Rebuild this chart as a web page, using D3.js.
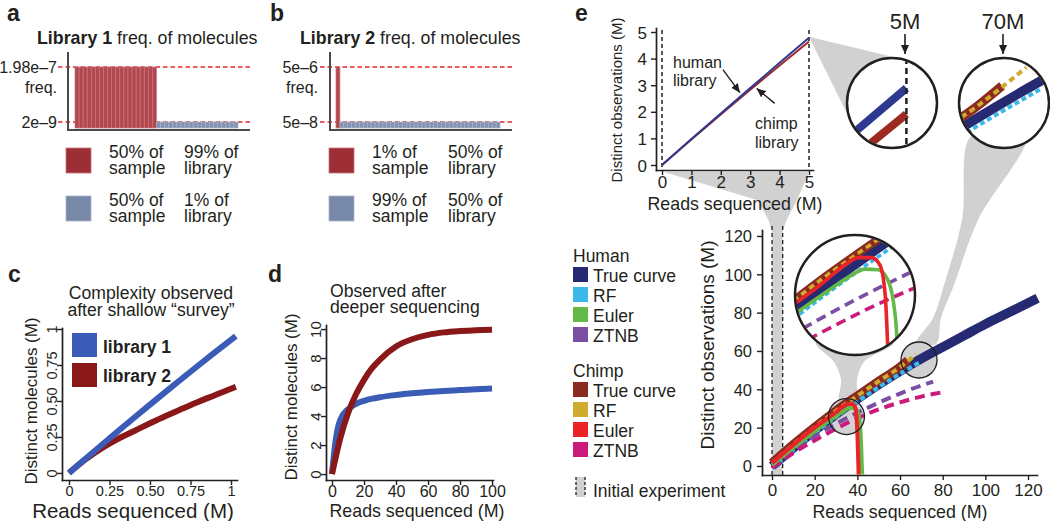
<!DOCTYPE html>
<html>
<head>
<meta charset="utf-8">
<script src="https://cdn.jsdelivr.net/npm/d3@7/dist/d3.min.js"></script>
<style>
  html,body{margin:0;padding:0;background:#fff;}
  svg{display:block;}
</style>
</head>
<body>
<svg id="fig" width="1050" height="521"></svg>
<script>
// ======================= DATA =======================
// Panel a – Library 1 frequency of molecules
const libAGroupFreq = [1.98e-7, 2e-9];
const libAGroupCount = [20, 20];
const libATickLabels = ["1.98e–7", "2e–9"];
const libALegendRows = [["50% of", "sample", "99% of", "library"], ["50% of", "sample", "1% of", "library"]];
// Panel b – Library 2 frequency of molecules
const libBGroupFreq = [5e-6, 5e-8];
const libBGroupCount = [1, 41];
const libBTickLabels = ["5e–6", "5e–8"];
const libBLegendRows = [["1% of", "sample", "50% of", "library"], ["99% of", "sample", "50% of", "library"]];
// Panel c – shallow survey
const surveyReads = [0, 0.1, 0.2, 0.3, 0.4, 0.5, 0.6, 0.7, 0.8, 0.9, 1.0, 1.03];
const surveyLib1 = [0, 0.097, 0.193, 0.288, 0.382, 0.475, 0.567, 0.658, 0.748, 0.837, 0.925, 0.951];
const surveyLib2 = [0, 0.092, 0.17, 0.235, 0.29, 0.345, 0.398, 0.447, 0.495, 0.54, 0.585, 0.598];
const surveyTicks = [0, 0.25, 0.5, 0.75, 1];
const surveyTickLabels = ["0", "0.25", "0.50", "0.75", "1"];
const surveyLegend = ["library 1", "library 2"];
// Panel d – deeper sequencing
const deepReads = [0, 2, 5, 10, 15, 20, 25, 30, 40, 50, 60, 70, 80, 90, 100];
const deepLib1 = [0, 2.1, 3.7, 4.47, 4.84, 5.05, 5.2, 5.3, 5.45, 5.57, 5.66, 5.73, 5.79, 5.85, 5.9];
const deepLib2 = [0, 1.0, 2.4, 4.2, 5.5, 6.5, 7.3, 7.9, 8.8, 9.3, 9.6, 9.77, 9.86, 9.92, 9.95];
const deepXTicks = [0, 20, 40, 60, 80, 100];
const deepYTicks = [0, 2, 4, 6, 8, 10];
// Panel e (top) – initial experiment
const initReads = [0, 1, 2, 3, 4, 5];
const initHuman = [0, 0.98, 1.94, 2.89, 3.84, 4.78];
const initChimp = [0, 0.96, 1.9, 2.83, 3.74, 4.64];
const initTicks = [0, 1, 2, 3, 4, 5];
// Panel e (bottom) – extrapolations
const humanTrueX = [0, 10, 20, 30, 40, 50, 60, 70, 80, 90, 100, 110, 120, 124.5];
const humanTrueY = [0, 9.5, 18.5, 27, 35, 42.5, 49.5, 56, 62, 68, 74, 79.5, 85, 87.5];
const humanRFX = [0, 10, 20, 30, 40, 50, 60, 70];
const humanRFY = [-1.2, 8.2, 17.1, 25.6, 33.6, 41.1, 48.1, 54.6];
const humanEulerX = [0, 10, 20, 30, 34, 36.5, 38.5, 40, 41.2, 41.8, 42.1, 42.3];
const humanEulerY = [0.5, 9.5, 18, 26, 29, 30.3, 30.2, 28.5, 22, 10, 0, -4.5];
const humanZTNBX = [0, 10, 20, 30, 40, 50, 60, 70, 75.5];
const humanZTNBY = [-0.5, 8, 15.5, 22, 27.8, 33, 37.8, 42, 44];
const chimpTrueX = [0, 10, 20, 30, 40, 50, 60, 63.7];
const chimpTrueY = [1.5, 11.2, 20.2, 28.8, 36.6, 44.2, 51.6, 55];
const chimpRFX = [0, 10, 20, 30, 40, 50, 60, 67.5];
const chimpRFY = [1.5, 11.2, 20.2, 28.8, 36.6, 44.2, 51.6, 58.2];
const chimpEulerX = [0, 10, 20, 30, 33, 35.5, 37.5, 38.8, 39.6, 40.1, 40.4, 40.6];
const chimpEulerY = [1.5, 11, 20, 28, 30.8, 32.3, 32.3, 31, 26, 14, 3, -4.5];
const chimpZTNBX = [0, 10, 20, 30, 40, 50, 60, 70, 80];
const chimpZTNBY = [-1, 6.8, 13.3, 19.5, 25, 29.5, 33.2, 36.2, 38.5];
const fullTicks = [0, 20, 40, 60, 80, 100, 120];
const legendGroups = ["Human", "Chimp"];
const legendSeries = ["True curve", "RF", "Euler", "ZTNB"];
const initialExperiment = [0, 5];
const zoomSpotX = [34.9, 68.9];
const zoomSpotY = [25.8, 55.3];
const insetLabels = ["5M", "70M"];

// ======================= STYLE / HELPERS =======================
const FONT = '"Liberation Sans", Arial, Helvetica, sans-serif';
const INK = "#231f20";
const GRAY = "#d1d1d1";
const svg = d3.select("#fig");
const defs = svg.append("defs");
defs.append("marker").attr("id", "arr").attr("viewBox", "0 -5 10 10")
  .attr("refX", 10).attr("refY", 0).attr("markerWidth", 9).attr("markerHeight", 9)
  .attr("markerUnits", "userSpaceOnUse").attr("orient", "auto")
  .append("path").attr("d", "M0,-4.5L10,0L0,4.5Z").attr("fill", INK);
const back = svg.append("g");
const front = svg.append("g");

function label(g, x, y, s, size, o = {}) {
  const t = g.append("text").attr("x", x).attr("y", y)
    .attr("font-family", FONT).attr("font-size", size).attr("fill", o.fill || INK);
  if (o.anchor) t.attr("text-anchor", o.anchor);
  if (o.bold) t.attr("font-weight", "bold");
  if (o.rot) t.attr("transform", `rotate(-90 ${x} ${y})`);
  t.text(s);
  return t;
}
function axes(g, x, y, o) {
  const ax = g.append("g").attr("transform", `translate(0,${y.range()[0]})`)
    .call(d3.axisBottom(x).tickValues(o.xt).tickFormat((d, i) => o.xl[i]).tickSize(5).tickSizeOuter(0));
  ax.selectAll(".tick text").attr("y", o.xly).attr("dy", 0).attr("font-size", o.xfs);
  const ay = g.append("g").attr("transform", `translate(${x.range()[0]},0)`)
    .call(d3.axisLeft(y).tickValues(o.yt).tickFormat((d, i) => o.yl[i]).tickSize(5).tickSizeOuter(0));
  if (o.yrot) ay.selectAll(".tick text").attr("x", 0).attr("y", -o.ylx).attr("dy", 0)
    .attr("text-anchor", "middle").attr("transform", "rotate(-90)");
  else ay.selectAll(".tick text").attr("x", -o.ylx).attr("dy", "0.36em");
  ay.selectAll(".tick text").attr("font-size", o.yfs);
  [ax, ay].forEach(a => {
    a.attr("font-family", FONT);
    a.select(".domain").attr("stroke", INK).attr("stroke-width", 1.7).attr("stroke-linecap", "square");
    a.selectAll(".tick line").attr("stroke", INK).attr("stroke-width", 1.4);
    a.selectAll(".tick text").attr("fill", INK);
  });
}
const zip = (xs, ys) => xs.map((v, i) => [v, ys[i]]);

// panel letters
[["a", 7, 21], ["b", 270, 21], ["c", 8, 282], ["d", 268, 282], ["e", 575, 21]]
  .forEach(p => label(front, p[1], p[2], p[0], 23, { bold: true }));

// ======================= PANELS a & b =======================
function freqPanel(o) {
  const g = front.append("g");
  const bars = [];
  o.freq.forEach((f, gi) => { for (let k = 0; k < o.count[gi]; k++) bars.push({ f, gi }); });
  const x = d3.scaleBand().domain(d3.range(bars.length)).range([o.bx0, o.bx1]);
  const y = d3.scaleLog().domain([o.freq[1], o.freq[0]]).range([122, 67]);
  const base = y.invert(128);
  o.freq.forEach(f => g.append("line").attr("x1", o.dx0).attr("x2", o.dx1).attr("y1", y(f)).attr("y2", y(f))
    .attr("stroke", "#e8262d").attr("stroke-width", 1.6).attr("stroke-dasharray", "4.5,3"));
  g.selectAll("rect.bar").data(bars).join("rect").attr("class", "bar")
    .attr("x", (d, i) => x(i)).attr("width", x.bandwidth())
    .attr("y", d => y(d.f)).attr("height", d => y(base) - y(d.f))
    .attr("fill", d => o.fills[d.gi]).attr("stroke", d => o.strokes[d.gi]).attr("stroke-width", 0.7);
  g.append("path").attr("d", `M${o.ax},52V130H${o.dx1}`).attr("fill", "none")
    .attr("stroke", "#4a4a4a").attr("stroke-width", 2);
  o.freq.forEach((f, i) => label(g, o.tx, y(f) + 5.5, o.tickLabels[i], 16, { anchor: "end" }));
  label(g, o.tx, 93, "freq.", 16, { anchor: "end" });
  const t = label(g, o.titleX, 44, "", 17.8);
  t.append("tspan").attr("font-weight", "bold").text(o.titleBold);
  t.append("tspan").text(" freq. of molecules");
  o.legend.forEach((row, i) => {
    const y0 = 148 + i * 48;
    g.append("rect").attr("x", o.lx).attr("y", y0).attr("width", 25).attr("height", 25)
      .attr("fill", o.legendFill[i]).attr("stroke", o.strokes[i]).attr("stroke-width", 0.8);
    label(g, o.c1, y0 + 9.5, row[0], 17.5); label(g, o.c1, y0 + 25.5, row[1], 17.5);
    label(g, o.c2, y0 + 9.5, row[2], 17.5); label(g, o.c2, y0 + 25.5, row[3], 17.5);
  });
}
const freqFills = ["#b3474f", "#8292b2"], freqStrokes = ["#c9747a", "#a7b3ca"], freqLegend = ["#9d2e36", "#7888a8"];
freqPanel({ freq: libAGroupFreq, count: libAGroupCount, bx0: 75, bx1: 238, dx0: 58, dx1: 250, ax: 68, tx: 57,
  tickLabels: libATickLabels, titleX: 37, titleBold: "Library 1", legend: libALegendRows, lx: 66, c1: 109, c2: 184,
  fills: freqFills, strokes: freqStrokes, legendFill: freqLegend });
freqPanel({ freq: libBGroupFreq, count: libBGroupCount, bx0: 336, bx1: 500, dx0: 320, dx1: 512, ax: 330, tx: 318,
  tickLabels: libBTickLabels, titleX: 300, titleBold: "Library 2", legend: libBLegendRows, lx: 329, c1: 372, c2: 448,
  fills: freqFills, strokes: freqStrokes, legendFill: freqLegend });

// ======================= PANEL c =======================
const BLUE = "#3b5cb6", DRED = "#8b1818";
{
  const g = front.append("g");
  const x = d3.scaleLinear().domain([-0.043, 1.037]).range([62, 237]);
  const y = d3.scaleLinear().domain([-0.049, 1.007]).range([480, 328]);
  axes(g, x, y, { xt: surveyTicks, xl: surveyTickLabels, xly: 16, xfs: 14.5, yt: surveyTicks, yl: surveyTickLabels, ylx: 5, yfs: 14.5, yrot: true });
  const line = d3.line().x((d, i) => x(surveyReads[i])).y(d => y(d)).curve(d3.curveMonotoneX);
  g.append("path").datum(surveyLib2).attr("d", line).attr("fill", "none").attr("stroke", DRED).attr("stroke-width", 6);
  g.append("path").datum(surveyLib1).attr("d", line).attr("fill", "none").attr("stroke", BLUE).attr("stroke-width", 6);
  label(g, 151, 299, "Complexity observed", 17.6, { anchor: "middle" });
  label(g, 151, 316, "after shallow \u201csurvey\u201d", 17.6, { anchor: "middle" });
  label(g, 133, 518, "Reads sequenced (M)", 20.5, { anchor: "middle" });
  label(g, 37, 401, "Distinct molecules (M)", 17, { anchor: "middle", rot: true });
  [BLUE, DRED].forEach((c, i) => {
    g.append("rect").attr("x", 72).attr("y", 333 + i * 30).attr("width", 25).attr("height", 24).attr("fill", c);
    label(g, 103, 353 + i * 29, surveyLegend[i], 17.5, { bold: true });
  });
}

// ======================= PANEL d =======================
{
  const g = front.append("g");
  const x = d3.scaleLinear().domain([-3.75, 100.6]).range([326, 493]);
  const y = d3.scaleLinear().domain([-0.41, 10.28]).range([480, 325]);
  axes(g, x, y, { xt: deepXTicks, xl: deepXTicks.map(String), xly: 16.5, xfs: 16, yt: deepYTicks, yl: deepYTicks.map(String), ylx: 5, yfs: 15, yrot: true });
  const line = d3.line().x((d, i) => x(deepReads[i])).y(d => y(d)).curve(d3.curveMonotoneX);
  g.append("path").datum(deepLib1).attr("d", line).attr("fill", "none").attr("stroke", BLUE).attr("stroke-width", 6);
  g.append("path").datum(deepLib2).attr("d", line).attr("fill", "none").attr("stroke", DRED).attr("stroke-width", 6);
  label(g, 330, 297, "Observed after", 17.6);
  label(g, 330, 313, "deeper sequencing", 17.6);
  label(g, 417, 516.5, "Reads sequenced (M)", 17.8, { anchor: "middle" });
  label(g, 297, 397, "Distinct molecules (M)", 17, { anchor: "middle", rot: true });
}

// ======================= PANEL e – scales =======================
const xT = d3.scaleLinear().domain([-0.204, 5.136]).range([656, 813]);
const yT = d3.scaleLinear().domain([-0.188, 5.15]).range([170, 28]);
const xB = d3.scaleLinear().domain([-4.69, 124.2]).range([762, 1037]);
const yB = d3.scaleLinear().domain([-4.7, 123.1]).range([475, 230]);

const HUMAN_C = ["#262a72", "#3cb8ea", "#62b946", "#7a4ea1"];
const CHIMP_C = ["#8b2a1e", "#cfab2e", "#ec2229", "#cc1a7c"];
const bottomSeries = [
  { xs: humanTrueX, ys: humanTrueY, c: HUMAN_C[0], w: 9.5 },
  { xs: chimpTrueX, ys: chimpTrueY, c: CHIMP_C[0], w: 9 },
  { xs: humanRFX, ys: humanRFY, c: HUMAN_C[1], w: 4, dash: "5,3" },
  { xs: chimpRFX, ys: chimpRFY, c: CHIMP_C[1], w: 4, dash: "6,4" },
  { xs: humanZTNBX, ys: humanZTNBY, c: HUMAN_C[3], w: 4, dash: "10,6" },
  { xs: chimpZTNBX, ys: chimpZTNBY, c: CHIMP_C[3], w: 4, dash: "10,6" },
  { xs: humanEulerX, ys: humanEulerY, c: HUMAN_C[2], w: 4 },
  { xs: chimpEulerX, ys: chimpEulerY, c: CHIMP_C[2], w: 4 }
];
function drawSeries(g, px, py, widthScale) {
  const line = d3.line().x(d => px(d[0])).y(d => py(d[1])).curve(d3.curveMonotoneX);
  bottomSeries.forEach(s => {
    const p = g.append("path").datum(zip(s.xs, s.ys)).attr("d", line).attr("fill", "none")
      .attr("stroke", s.c).attr("stroke-width", s.w * (widthScale || 1));
    if (s.dash) p.attr("stroke-dasharray", s.dash);
  });
}

// ---------- gray connectors (back layer) ----------
const fA = [[xT(0) + 2, 172], [xT(5), 172], [797, 200], [787, 219], [xB(5), 231], [xB(5), yB.range()[0]],
  [xB(0), yB.range()[0]], [xB(0), 231], [768, 219], [757, 200]];
back.append("path").attr("d", d3.line()(fA) + "Z").attr("fill", GRAY);

const in5 = { cx: 892, cy: 103, r: 45, k: 7 };
{
  const P = [xT(initReads[5]), yT(initHuman[5]) - 1];
  const dx = in5.cx - P[0], dy = in5.cy - P[1];
  const d = Math.hypot(dx, dy), phi = Math.atan2(dy, dx), a = Math.asin(in5.r / d), L = Math.sqrt(d * d - in5.r * in5.r);
  const T1 = [P[0] + L * Math.cos(phi - a), P[1] + L * Math.sin(phi - a)];
  const T2 = [P[0] + L * Math.cos(phi + a), P[1] + L * Math.sin(phi + a)];
  back.append("path").attr("d", d3.line()([P, T1, [in5.cx, in5.cy], T2]) + "Z").attr("fill", GRAY);
}
const in70 = { cx: 1004, cy: 103, r: 45, k: 3 };
const spot2 = [xB(zoomSpotX[1]), yB(zoomSpotY[1])];
back.append("path").attr("d", d3.line().curve(d3.curveCatmullRomClosed)([
  [972, 135], [962, 220], [944, 285], [933, 318], [spot2[0] - 3, spot2[1] - 16],
  [spot2[0] + 17, spot2[1] - 16], [941, 318], [954, 285], [978, 220], [1026, 135]])).attr("fill", GRAY);
const inBig = { cx: 855, cy: 295, r: 60, k: 3 };
const spot1 = [xB(zoomSpotX[0]), yB(zoomSpotY[0])];
back.append("path").attr("d", d3.line().curve(d3.curveCatmullRomClosed)([
  [816, 343], [834, 362], [841, 380], [spot1[0] - 7, spot1[1] - 14],
  [spot1[0] + 10, spot1[1] - 14], [857, 380], [864, 362], [894, 343]])).attr("fill", GRAY);
[spot1, spot2].forEach(s => back.append("circle").attr("cx", s[0]).attr("cy", s[1]).attr("r", 18).attr("fill", GRAY));

// ======================= PANEL e – top chart =======================
{
  const g = front.append("g");
  axes(g, xT, yT, { xt: initTicks, xl: initTicks.map(String), xly: 18, xfs: 17, yt: initTicks, yl: initTicks.map(String), ylx: 9, yfs: 17 });
  initialExperiment.forEach(v => g.append("line").attr("x1", xT(v)).attr("x2", xT(v)).attr("y1", 30).attr("y2", 170)
    .attr("stroke", INK).attr("stroke-width", 1.5).attr("stroke-dasharray", "4,3"));
  const line = d3.line().x((d, i) => xT(initReads[i])).y(d => yT(d));
  g.append("path").datum(initChimp).attr("d", line).attr("fill", "none").attr("stroke", "#a3282a").attr("stroke-width", 2);
  g.append("path").datum(initHuman).attr("d", line).attr("fill", "none").attr("stroke", "#2e3a8f").attr("stroke-width", 2);
  label(g, 673, 68, "human", 16); label(g, 673, 86, "library", 16);
  label(g, 755, 129, "chimp", 16); label(g, 755, 148, "library", 16);
  const hTip = [xT(2.65), yT(2.53) - 5], cTip = [xT(3.22), yT(3.03) + 4];
  g.append("line").attr("x1", hTip[0] - 17).attr("y1", hTip[1] - 23).attr("x2", hTip[0]).attr("y2", hTip[1])
    .attr("stroke", INK).attr("stroke-width", 1.4).attr("marker-end", "url(#arr)");
  g.append("line").attr("x1", cTip[0] + 18).attr("y1", cTip[1] + 15).attr("x2", cTip[0]).attr("y2", cTip[1])
    .attr("stroke", INK).attr("stroke-width", 1.4).attr("marker-end", "url(#arr)");
  label(g, 735, 210, "Reads sequenced (M)", 17.8, { anchor: "middle" });
  label(g, 622, 100, "Distinct observations (M)", 15, { anchor: "middle", rot: true });
}

// ---------- 5M inset ----------
{
  const g = front.append("g");
  g.append("circle").attr("cx", in5.cx).attr("cy", in5.cy).attr("r", in5.r).attr("fill", "#fff");
  defs.append("clipPath").attr("id", "clip5").append("circle").attr("cx", in5.cx).attr("cy", in5.cy).attr("r", in5.r - 1);
  const c = g.append("g").attr("clip-path", "url(#clip5)");
  const fx = xT(4.93), fy = yT(4.70);
  const px = v => in5.cx + in5.k * (xT(v) - fx), py = v => in5.cy + in5.k * (yT(v) - fy);
  const line = d3.line().x((d, i) => px(initReads[i])).y(d => py(d));
  c.append("path").datum(initHuman).attr("d", line).attr("fill", "none").attr("stroke", "#2e3a8f").attr("stroke-width", 8);
  c.append("path").datum(initChimp).attr("d", line).attr("fill", "none").attr("stroke", "#9c2a1f").attr("stroke-width", 8);
  c.append("line").attr("x1", px(initialExperiment[1])).attr("x2", px(initialExperiment[1]))
    .attr("y1", in5.cy - in5.r).attr("y2", in5.cy + in5.r).attr("stroke", INK).attr("stroke-width", 2.5).attr("stroke-dasharray", "6,4");
  g.append("circle").attr("cx", in5.cx).attr("cy", in5.cy).attr("r", in5.r).attr("fill", "none").attr("stroke", INK).attr("stroke-width", 2.5);
}
// ---------- 70M inset ----------
{
  const g = front.append("g");
  g.append("circle").attr("cx", in70.cx).attr("cy", in70.cy).attr("r", in70.r).attr("fill", "#fff");
  defs.append("clipPath").attr("id", "clip70").append("circle").attr("cx", in70.cx).attr("cy", in70.cy).attr("r", in70.r - 1);
  const c = g.append("g").attr("clip-path", "url(#clip70)");
  const fx = xB(64), fy = yB(52);
  drawSeries(c, v => in70.cx + in70.k * (xB(v) - fx), v => in70.cy + in70.k * (yB(v) - fy), 1);
  g.append("circle").attr("cx", in70.cx).attr("cy", in70.cy).attr("r", in70.r).attr("fill", "none").attr("stroke", INK).attr("stroke-width", 2.5);
}
[[in5.cx + 13, insetLabels[0]], [in70.cx - 1, insetLabels[1]]].forEach(p => {
  label(front, p[0], 29, p[1], 22, { anchor: "middle" });
  front.append("line").attr("x1", p[0]).attr("x2", p[0]).attr("y1", 34).attr("y2", 54)
    .attr("stroke", INK).attr("stroke-width", 1.6).attr("marker-end", "url(#arr)");
});

// ======================= PANEL e – bottom chart =======================
{
  const g = front.append("g");
  initialExperiment.forEach(v => g.append("line").attr("x1", xB(v)).attr("x2", xB(v)).attr("y1", 226).attr("y2", 475)
    .attr("stroke", INK).attr("stroke-width", 1.3).attr("stroke-dasharray", "4,3"));
  axes(g, xB, yB, { xt: fullTicks, xl: fullTicks.map(String), xly: 21, xfs: 17, yt: fullTicks, yl: fullTicks.map(String), ylx: 10, yfs: 16.5 });
  drawSeries(g, xB, yB, 1);
  [spot1, spot2].forEach(s => g.append("circle").attr("cx", s[0]).attr("cy", s[1]).attr("r", 18)
    .attr("fill", "none").attr("stroke", INK).attr("stroke-width", 1.3));
  label(g, 900, 517.5, "Reads sequenced (M)", 17.8, { anchor: "middle" });
  label(g, 714, 345, "Distinct observations (M)", 19, { anchor: "middle", rot: true });

  g.append("circle").attr("cx", inBig.cx).attr("cy", inBig.cy).attr("r", inBig.r).attr("fill", "#fff");
  defs.append("clipPath").attr("id", "clipBig").append("circle").attr("cx", inBig.cx).attr("cy", inBig.cy).attr("r", inBig.r - 1);
  const c = g.append("g").attr("clip-path", "url(#clipBig)");
  drawSeries(c, v => inBig.cx + inBig.k * (xB(v) - spot1[0]), v => inBig.cy + inBig.k * (yB(v) - spot1[1]), 0.9);
  g.append("circle").attr("cx", inBig.cx).attr("cy", inBig.cy).attr("r", inBig.r).attr("fill", "none").attr("stroke", INK).attr("stroke-width", 2.5);

  const lg = front.append("g");
  [HUMAN_C, CHIMP_C].forEach((cols, gi) => {
    const y0 = 262 + gi * 115;
    label(lg, 573, y0, legendGroups[gi], 17.5);
    legendSeries.forEach((s, i) => {
      lg.append("rect").attr("x", 573).attr("y", y0 + 5 + i * 20).attr("width", 15).attr("height", 15).attr("fill", cols[i]);
      label(lg, 593, y0 + 19.5 + i * 20, s, 17.5);
    });
  });
  lg.append("rect").attr("x", 576).attr("y", 477).attr("width", 9).attr("height", 20).attr("fill", GRAY);
  [576, 585].forEach(xx => lg.append("line").attr("x1", xx).attr("x2", xx).attr("y1", 477).attr("y2", 497)
    .attr("stroke", INK).attr("stroke-width", 1.3).attr("stroke-dasharray", "3,2"));
  label(lg, 593, 497, "Initial experiment", 17.5);
}
</script>
</body>
</html>
